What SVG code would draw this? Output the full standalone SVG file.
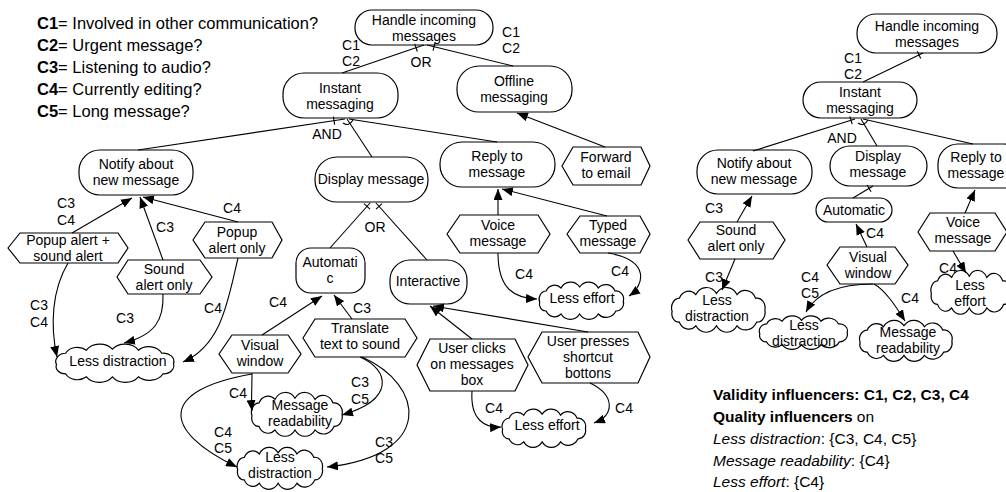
<svg xmlns="http://www.w3.org/2000/svg" xmlns:xlink="http://www.w3.org/1999/xlink" width="1006" height="492" viewBox="0 0 1006 492">
<style>
.n{fill:#fff;stroke:#000;stroke-width:1.2}
.t{font-family:"Liberation Sans",Arial,sans-serif;font-size:14px;text-anchor:middle;fill:#000}
.lg{font-family:"Liberation Sans",Arial,sans-serif;font-size:16.5px;fill:#000}
.lg2{font-family:"Liberation Sans",Arial,sans-serif;font-size:15.5px;fill:#000}
.c{fill:none;stroke:#000;stroke-width:1.1}
.a{marker-end:url(#ah)}
</style>
<defs>
<marker id="ah" markerUnits="userSpaceOnUse" markerWidth="12" markerHeight="9" refX="11" refY="4.5" orient="auto"><path d="M0,0 L11,4.5 L0,9 z" fill="#000"/></marker>
<symbol id="cloud" viewBox="0 0 100 40" preserveAspectRatio="none"><path d="M5,22 A8,8 0 0 1 12,11 A10,10 0 0 1 28,8 A12,12 0 0 1 48,7 A12,12 0 0 1 68,8 A11,11 0 0 1 86,11 A8,8 0 0 1 95,21 A8,8 0 0 1 87,31 A12,12 0 0 1 68,34 A12,12 0 0 1 48,34 A12,12 0 0 1 28,34 A10,10 0 0 1 12,31 A7,7 0 0 1 5,22 Z" fill="#fff" stroke="#000" stroke-width="1.2" vector-effect="non-scaling-stroke"/></symbol>
</defs>
<rect width="1006" height="492" fill="#fff"/>

<g id="legend-conditions" class="lg">
<text x="37" y="29"><tspan font-weight="bold">C1</tspan>= Involved in other communication?</text>
<text x="37" y="51"><tspan font-weight="bold">C2</tspan>= Urgent message?</text>
<text x="37" y="73"><tspan font-weight="bold">C3</tspan>= Listening to audio?</text>
<text x="37" y="95"><tspan font-weight="bold">C4</tspan>= Currently editing?</text>
<text x="37" y="117"><tspan font-weight="bold">C5</tspan>= Long message?</text>
</g>

<!-- LEFT DIAGRAM NODES -->
<g id="handle1"><rect class="n" x="355" y="10" width="138" height="35" rx="17"/><text class="t"><tspan x="424" y="25">Handle incoming</tspan><tspan x="424" dy="16">messages</tspan></text></g>
<g id="instant1"><rect class="n" x="283" y="73" width="115" height="45" rx="21"/><text class="t"><tspan x="340" y="93">Instant</tspan><tspan x="340" dy="16">messaging</tspan></text></g>
<g id="offline1"><rect class="n" x="457" y="66" width="115" height="46" rx="22"/><text class="t"><tspan x="514" y="86">Offline</tspan><tspan x="514" dy="16">messaging</tspan></text></g>
<g id="notify1"><rect class="n" x="79" y="150" width="114" height="45" rx="21"/><text class="t"><tspan x="136" y="169">Notify about</tspan><tspan x="136" dy="16">new message</tspan></text></g>
<g id="display1"><rect class="n" x="315" y="157" width="113" height="45" rx="22"/><text class="t" x="371" y="184">Display message</text></g>
<g id="reply1"><rect class="n" x="440" y="142" width="115" height="45" rx="22"/><text class="t"><tspan x="497" y="161">Reply to</tspan><tspan x="497" dy="16">message</tspan></text></g>
<g id="forward1"><polygon class="n" points="562,166 573,147 641,147 650,166 641,185 573,185"/><text class="t"><tspan x="606" y="162">Forward</tspan><tspan x="606" dy="16">to email</tspan></text></g>
<g id="popupsound1"><polygon class="n" points="8,248 20,233 118,233 128,248 118,263 20,263"/><text class="t"><tspan x="68" y="245">Popup alert +</tspan><tspan x="68" dy="16">sound alert</tspan></text></g>
<g id="soundonly1"><polygon class="n" points="117,277 128,260 200,260 212,277 200,294 128,294"/><text class="t"><tspan x="164" y="274">Sound</tspan><tspan x="164" dy="16">alert only</tspan></text></g>
<g id="popuponly1"><polygon class="n" points="193,240 205,222 272,222 282,240 272,258 205,258"/><text class="t"><tspan x="237" y="237">Popup</tspan><tspan x="237" dy="16">alert only</tspan></text></g>
<g id="lessdist1"><use xlink:href="#cloud" x="50" y="342" width="130" height="41"/><text class="t" x="118" y="366">Less distraction</text></g>
<g id="automatic1"><rect class="n" x="296" y="248" width="69" height="45" rx="15"/><text class="t"><tspan x="330" y="267">Automati</tspan><tspan x="330" dy="16">c</tspan></text></g>
<g id="interactive1"><rect class="n" x="390" y="260" width="77" height="44" rx="20"/><text class="t" x="428" y="286">Interactive</text></g>
<g id="voice1"><polygon class="n" points="447,234 460,215 538,215 550,234 538,253 460,253"/><text class="t"><tspan x="498" y="230">Voice</tspan><tspan x="498" dy="16">message</tspan></text></g>
<g id="typed1"><polygon class="n" points="567,234 580,216 640,216 650,234 640,253 580,253"/><text class="t"><tspan x="608" y="230">Typed</tspan><tspan x="608" dy="16">message</tspan></text></g>
<g id="lesseffort1"><use xlink:href="#cloud" x="535" y="280" width="93" height="40"/><text class="t" x="582" y="303">Less effort</text></g>
<g id="visual1"><polygon class="n" points="219,354 232,335 288,335 301,354 288,373 232,373"/><text class="t"><tspan x="260" y="350">Visual</tspan><tspan x="260" dy="16">window</tspan></text></g>
<g id="translate1"><polygon class="n" points="303,338 315,319 405,319 417,338 405,357 315,357"/><text class="t"><tspan x="360" y="333">Translate</tspan><tspan x="360" dy="16">text to sound</tspan></text></g>
<g id="userclicks1"><polygon class="n" points="417,365 430,339 515,339 528,365 515,391 430,391"/><text class="t"><tspan x="472" y="353">User clicks</tspan><tspan x="472" dy="16">on messages</tspan><tspan x="472" dy="16">box</tspan></text></g>
<g id="userpresses1"><polygon class="n" points="528,357 542,332 638,332 650,357 638,383 542,383"/><text class="t"><tspan x="588" y="346">User presses</tspan><tspan x="588" dy="16">shortcut</tspan><tspan x="588" dy="16">bottons</tspan></text></g>
<g id="msgread1"><use xlink:href="#cloud" x="247" y="390" width="100" height="47"/><text class="t"><tspan x="300" y="410">Message</tspan><tspan x="300" dy="16">readability</tspan></text></g>
<g id="lessdist1b"><use xlink:href="#cloud" x="233" y="445" width="94" height="45"/><text class="t"><tspan x="280" y="462">Less</tspan><tspan x="280" dy="16">distraction</tspan></text></g>
<g id="lesseffort1b"><use xlink:href="#cloud" x="498" y="407" width="92" height="41"/><text class="t" x="547" y="430">Less effort</text></g>

<!-- RIGHT DIAGRAM NODES -->
<g id="handle2"><rect class="n" x="857" y="14" width="140" height="39" rx="19"/><text class="t"><tspan x="927" y="31">Handle incoming</tspan><tspan x="927" dy="16">messages</tspan></text></g>
<g id="instant2"><rect class="n" x="803" y="82" width="114" height="36" rx="18"/><text class="t"><tspan x="860" y="97">Instant</tspan><tspan x="860" dy="16">messaging</tspan></text></g>
<g id="notify2"><rect class="n" x="697" y="150" width="115" height="44" rx="21"/><text class="t"><tspan x="754" y="168">Notify about</tspan><tspan x="754" dy="16">new message</tspan></text></g>
<g id="display2"><rect class="n" x="830" y="146" width="97" height="40" rx="20"/><text class="t"><tspan x="878" y="161">Display</tspan><tspan x="878" dy="16">message</tspan></text></g>
<g id="reply2"><rect class="n" x="938" y="144" width="86" height="44" rx="20"/><text class="t"><tspan x="976" y="162">Reply to</tspan><tspan x="976" dy="16">message</tspan></text></g>
<g id="soundonly2"><polygon class="n" points="688,240 700,222 773,222 785,240 773,259 700,259"/><text class="t"><tspan x="736" y="235">Sound</tspan><tspan x="736" dy="16">alert only</tspan></text></g>
<g id="lessdist2a"><use xlink:href="#cloud" x="667" y="285" width="103" height="48"/><text class="t"><tspan x="717" y="305">Less</tspan><tspan x="717" dy="16">distraction</tspan></text></g>
<g id="automatic2"><rect class="n" x="816" y="198" width="76" height="24" rx="12"/><text class="t" x="854" y="215">Automatic</text></g>
<g id="visual2"><polygon class="n" points="827,265 840,247 895,247 908,265 895,284 840,284"/><text class="t"><tspan x="868" y="262">Visual</tspan><tspan x="868" dy="16">window</tspan></text></g>
<g id="lessdist2b"><use xlink:href="#cloud" x="755" y="314" width="97" height="36"/><text class="t"><tspan x="804" y="330">Less</tspan><tspan x="804" dy="16">distraction</tspan></text></g>
<g id="msgread2"><use xlink:href="#cloud" x="855" y="318" width="102" height="44"/><text class="t"><tspan x="908" y="337">Message</tspan><tspan x="908" dy="16">readability</tspan></text></g>
<g id="voice2"><polygon class="n" points="918,232 930,213 995,213 1007,232 995,251 930,251"/><text class="t"><tspan x="963" y="227">Voice</tspan><tspan x="963" dy="16">message</tspan></text></g>
<g id="lesseffort2"><use xlink:href="#cloud" x="927" y="268" width="88" height="47"/><text class="t"><tspan x="970" y="290">Less</tspan><tspan x="970" dy="16">effort</tspan></text></g>

<!-- CONNECTORS -->
<g id="connectors" class="c">
<path d="M342,73 L424,45"/><path d="M513,66 L427,45"/>
<path d="M414.7,43.9 L417.3,51.5"/><path d="M433,50.6 L435,42.8"/>
<path d="M345,119 L138,150"/><path d="M347,119 L372,157"/><path d="M349,119 L497,142"/>
<path d="M333.4,116.6 L334.6,124.6"/><path d="M343,123 Q349,127 353,120"/>
<path d="M330,248 L370,203"/><path d="M427,260 L376,203"/>
<path d="M364,203.7 L370,209.1"/><path d="M376,209.1 L382,203.7"/>
<path class="a" d="M72,233 L132,198"/>
<path class="a" d="M163,260 L140,197"/>
<path class="a" d="M238,222 L143,197"/>
<path class="a" d="M68,263 C52,290 50,325 57,357"/>
<path class="a" d="M163,294 C164,320 155,335 124,343"/>
<path class="a" d="M238,258 C228,300 222,345 183,362"/>
<path class="a" d="M262,335 L322,296"/>
<path class="a" d="M352,319 L334,295"/>
<path class="a" d="M472,339 L430,306"/>
<path class="a" d="M588,332 L433,306"/>
<path class="a" d="M252,373 C252,390 251,400 252,411"/>
<path class="a" d="M252,374 C160,390 160,430 237,467"/>
<path class="a" d="M360,357 C390,370 395,400 342,415"/>
<path class="a" d="M362,357 C425,385 435,455 327,467"/>
<path class="a" d="M498,215 L498,189"/>
<path class="a" d="M607,216 L502,189"/>
<path class="a" d="M605,147 L517,113"/>
<path class="a" d="M498,253 C498,290 515,298 537,299"/>
<path class="a" d="M608,253 C650,260 645,285 629,296"/>
<path class="a" d="M472,391 C470,420 485,428 501,427"/>
<path class="a" d="M590,383 C615,395 615,415 594,423"/>
<path d="M863,82 L923,53"/><path d="M917.3,51.3 L920.7,58.5"/>
<path d="M855,119 L753,151"/><path d="M849.8,116.5 L852.2,124.1"/>
<path d="M861,119 L877,146"/><path d="M863,119 L973,144"/>
<path d="M858,123 Q864,127 868,120"/>
<path d="M873,186 L853,198"/><path d="M867,185 L871,191.8"/>
<path class="a" d="M737,222 L752,196"/>
<path class="a" d="M735,259 L722,290"/>
<path class="a" d="M867,247 L856,224"/>
<path class="a" d="M873,284 C845,284 818,290 806,312"/>
<path class="a" d="M874,284 C885,290 895,305 905,321"/>
<path class="a" d="M965,213 L975,190"/>
<path class="a" d="M953,251 L966,273"/>
</g>

<g id="labels" class="t">
<text><tspan x="351" y="50">C1</tspan><tspan x="351" dy="16">C2</tspan></text>
<text><tspan x="511" y="37">C1</tspan><tspan x="511" dy="16">C2</tspan></text>
<text x="421" y="67">OR</text>
<text x="327" y="139">AND</text>
<text x="375" y="232">OR</text>
<text><tspan x="66" y="208">C3</tspan><tspan x="66" dy="17">C4</tspan></text>
<text x="165" y="232">C3</text>
<text x="232" y="213">C4</text>
<text><tspan x="39" y="310">C3</tspan><tspan x="39" dy="17">C4</tspan></text>
<text x="125" y="323">C3</text>
<text x="213" y="313">C4</text>
<text x="278" y="307">C4</text>
<text x="362" y="313">C3</text>
<text x="238" y="398">C4</text>
<text><tspan x="223" y="437">C4</tspan><tspan x="223" dy="16">C5</tspan></text>
<text><tspan x="360" y="387">C3</tspan><tspan x="360" dy="17">C5</tspan></text>
<text><tspan x="384" y="447">C3</tspan><tspan x="384" dy="16">C5</tspan></text>
<text x="524" y="279">C4</text>
<text x="620" y="276">C4</text>
<text x="494" y="413">C4</text>
<text x="624" y="413">C4</text>
<text><tspan x="853" y="63">C1</tspan><tspan x="853" dy="16">C2</tspan></text>
<text x="842" y="143">AND</text>
<text x="714" y="213">C3</text>
<text x="714" y="282">C3</text>
<text x="875" y="238">C4</text>
<text><tspan x="810" y="282">C4</tspan><tspan x="810" dy="16">C5</tspan></text>
<text x="910" y="303">C4</text>
<text x="948" y="273">C4</text>
</g>

<g id="legend-influencers" class="lg2">
<text x="713" y="400" font-weight="bold">Validity influencers: C1, C2, C3, C4</text>
<text x="713" y="422"><tspan font-weight="bold">Quality influencers</tspan> on</text>
<text x="713" y="444"><tspan font-style="italic">Less distraction</tspan>: {C3, C4, C5}</text>
<text x="713" y="466"><tspan font-style="italic">Message readability</tspan>: {C4}</text>
<text x="713" y="487"><tspan font-style="italic">Less effort</tspan>: {C4}</text>
</g>
</svg>
